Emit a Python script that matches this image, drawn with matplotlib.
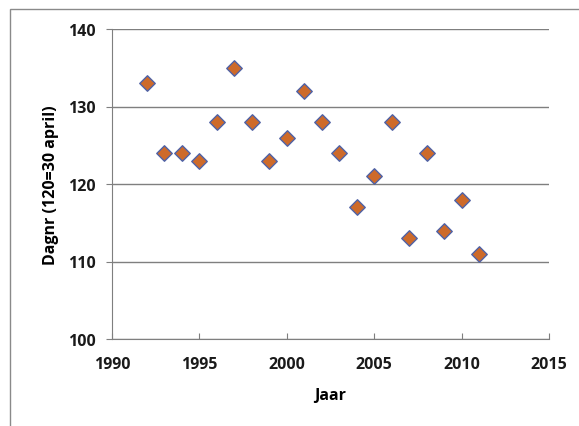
import matplotlib.pyplot as plt
from matplotlib.patches import Rectangle

plt.rcParams['font.family'] = ['Open Sans', 'DejaVu Sans']

jaar = [1992, 1993, 1994, 1995, 1996, 1997, 1998, 1999, 2000, 2001,
        2002, 2003, 2004, 2005, 2006, 2007, 2008, 2009, 2010, 2011]
dagnr = [133, 124, 124, 123, 128, 135, 128, 123, 126, 132,
         128, 124, 117, 121, 128, 113, 124, 114, 118, 111]

fig = plt.figure(figsize=(5.79, 4.27), dpi=100)
ax = fig.add_axes([112/579, 1 - 340/427, (549-112)/579, (340-30)/427])

# outer chart border
fig.patches.append(Rectangle((10/579, -0.01), 1.0, 1 - 10/427 + 0.01,
                             transform=fig.transFigure, fill=False,
                             edgecolor='#8a8a8a', linewidth=1.0))

ax.scatter(jaar, dagnr, marker='D', s=62, color='#CD6A2A',
           edgecolor='#4F62A6', linewidth=1.0, zorder=3)

ax.set_xlim(1990, 2015)
ax.set_ylim(100, 140)
ax.set_xticks(range(1990, 2016, 5))
ax.set_yticks(range(100, 141, 10))
ax.yaxis.grid(True, color='#7f7f7f', linewidth=1.0)
ax.set_axisbelow(True)
for side in ['top', 'right']:
    ax.spines[side].set_visible(False)
for side in ['left', 'bottom']:
    ax.spines[side].set_color('#7f7f7f')
ax.tick_params(axis='x', direction='in', length=4, color='#7f7f7f',
               labelsize=11.5, pad=12)
ax.tick_params(axis='y', direction='out', length=4, color='#7f7f7f',
               labelsize=11.5, pad=8)
for lbl in ax.get_xticklabels() + ax.get_yticklabels():
    lbl.set_fontweight('bold')
    lbl.set_color('#1a1a1a')

ax.set_xlabel('Jaar', fontsize=11.5, fontweight='bold', labelpad=11)
ax.set_ylabel('Dagnr (120=30 april)', fontsize=11.5, fontweight='bold', labelpad=6)

fig.savefig('out.png', dpi=100)
